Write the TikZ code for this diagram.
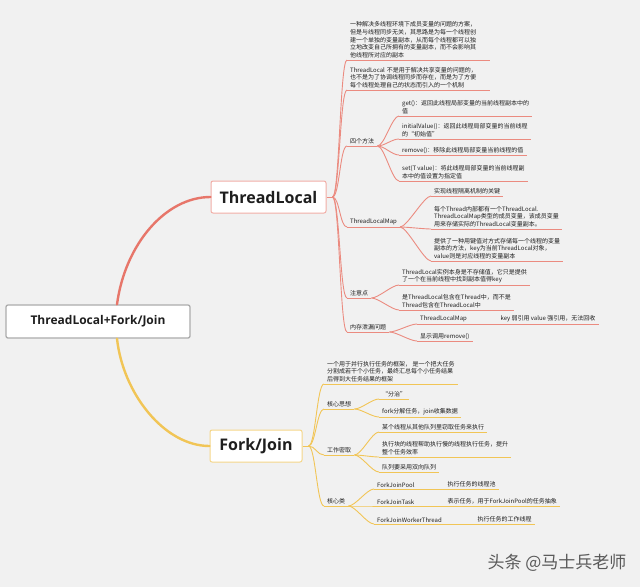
\documentclass[tikz,border=0pt]{standalone}
\usepackage{fontspec}
\setmainfont{Noto Sans CJK SC}
\newfontfamily\titlefont{Open Sans}
\usetikzlibrary{positioning}

\definecolor{bgcol}{RGB}{241,241,241}
\definecolor{tlcol}{RGB}{231,118,106}
\definecolor{fjcol}{RGB}{241,197,86}
\definecolor{txtcol}{RGB}{30,30,30}

\begin{document}
\begin{tikzpicture}[x=1pt,y=-1pt,
  topic/.style={draw, fill=white, rounded corners=2pt, line width=1pt,
    text=txtcol, inner sep=0pt, font=\titlefont\bfseries\fontsize{16}{18}\selectfont},
  leaf/.style={anchor=south west, inner xsep=3pt, inner ysep=1.6pt, align=left,
    text=txtcol, font=\fontsize{6}{7.8}\selectfont,
    append after command={(\tikzlastnode.south west) edge[#1] (\tikzlastnode.south east)}},
  leaf/.default=tlline,
  tlline/.style={draw=tlcol!85, line width=0.9pt},
  fjline/.style={draw=fjcol, line width=0.9pt},
  rootline/.style={line width=2.4pt, line cap=round},
  branch/.style={to path={.. controls +(7,0) and +(-7,0) .. (\tikztotarget)}}
]

\fill[bgcol] (0,0) rectangle (640,587);

\node[topic,
    draw=gray!65,
    line width=1.3pt,
    minimum width=184pt,
    minimum height=33pt,
    font=\titlefont\bfseries\fontsize{12}{14}\selectfont
] (root) at (98,321.5) {ThreadLocal+Fork/Join};

\node[topic,
    draw=tlcol!60,
    minimum width=115pt,
    minimum height=32pt
] (tl) at (268.5,197) {ThreadLocal};

\node[topic,
    draw=fjcol!70,
    minimum width=92pt,
    minimum height=32pt
] (fj) at (256,446) {Fork/Join};

\coordinate (tlhub) at ([xshift=6pt]tl.east);
\coordinate (fjhub) at ([xshift=6pt]fj.east);

\node[leaf, text width=137pt] (tldef) at (347,60) {一种解决多线程环境下成员变量的问题的方案，\\但是与线程同步无关，其思路是为每一个线程创\\建一个单独的变量副本，从而每个线程都可以独\\立地改变自己所拥有的变量副本，而不会影响其\\他线程所对应的副本};
\node[leaf, text width=137pt] (tlnote) at (347,90) {ThreadLocal 不是用于解决共享变量的问题的，\\也不是为了协调线程同步而存在，而是为了方便\\每个线程处理自己的状态而引入的一个机制};
\node[leaf] (tlmeth) at (347,146) {四个方法};
\node[leaf] (tlmap) at (347,227) {ThreadLocalMap};
\node[leaf] (tlcare) at (347,298) {注意点};
\node[leaf] (tlleak) at (347,332) {内存泄漏问题};

\node[leaf] (mget) at (399,116) {get()：返回此线程局部变量的当前线程副本中的\\值};
\node[leaf] (minit) at (399,139) {initialValue()：返回此线程局部变量的当前线程\\的“初始值”};
\node[leaf] (mremove) at (399,155) {remove()：移除此线程局部变量当前线程的值};
\node[leaf] (mset) at (399,181) {set(T value)：将此线程局部变量的当前线程副\\本中的值设置为指定值};

\node[leaf] (mapkey) at (431,196) {实现线程隔离机制的关键};
\node[leaf] (mapfield) at (431,229) {每个Thread内部都有一个ThreadLocal.\\ThreadLocalMap类型的成员变量，该成员变量\\用来存储实际的ThreadLocal变量副本。};
\node[leaf] (mapstore) at (431,261) {提供了一种用键值对方式存储每一个线程的变量\\副本的方法，key为当前ThreadLocal对象，\\value则是对应线程的变量副本};

\node[leaf] (carevalue) at (399,285) {ThreadLocal实例本身是不存储值，它只是提供\\了一个在当前线程中找到副本值得key};
\node[leaf] (careowner) at (399,310) {是ThreadLocal包含在Thread中，而不是\\Thread包含在ThreadLocal中};

\node[leaf, text width=74pt] (leakmap) at (417,324) {ThreadLocalMap};
\node[leaf] (leakref) at (leakmap.south east) {key 弱引用 value 强引用，无法回收};
\node[leaf] (leakremove) at (417,341) {显示调用remove()};

\node[leaf=fjline] (fjdef) at (324,384) {一个用于并行执行任务的框架， 是一个把大任务\\分割成若干个小任务，最终汇总每个小任务结果\\后得到大任务结果的框架};
\node[leaf=fjline] (fjidea) at (324,409) {核心思想};
\node[leaf=fjline] (fjsteal) at (324,455) {工作密取};
\node[leaf=fjline] (fjclass) at (324,506) {核心类};

\node[leaf=fjline] (ideadiv) at (379,399) {“分治”};
\node[leaf=fjline] (ideafork) at (379,417) {fork分解任务，join收集数据};

\node[leaf=fjline] (stealtask) at (379,432) {某个线程从其他队列里窃取任务来执行};
\node[leaf=fjline] (stealhelp) at (379,457) {执行块的线程帮助执行慢的线程执行任务，提升\\整个任务效率};
\node[leaf=fjline] (stealdeque) at (379,472) {队列要采用双向队列};

\node[leaf=fjline, text width=64pt] (clspool) at (374,489) {ForkJoinPool};
\node[leaf=fjline] (clspooltxt) at (clspool.south east) {执行任务的线程池};
\node[leaf=fjline, text width=64pt] (clstask) at (374,506) {ForkJoinTask};
\node[leaf=fjline] (clstasktxt) at (clstask.south east) {表示任务，用于ForkJoinPool的任务抽象};
\node[leaf=fjline, text width=94pt] (clsworker) at (374,524) {ForkJoinWorkerThread};
\node[leaf=fjline] (clsworkertxt) at (clsworker.south east) {执行任务的工作线程};

\node[text=black!65, font=\fontsize{17}{19}\selectfont] (wmark) at (557,563) {头条 @马士兵老师};

\draw[rootline, tlcol] ([xshift=19pt]root.north) .. controls +(8,-60) and +(-45,0) .. (tl.west);
\draw[rootline, fjcol] ([xshift=19pt]root.south) .. controls +(6,55) and +(-45,0) .. (fj.west);

\draw[tlline] (tl.east) -- (tlhub);
\draw[tlline, branch] (tlhub) to (tldef.south west);
\draw[tlline, branch] (tlhub) to (tlnote.south west);
\draw[tlline, branch] (tlhub) to (tlmeth.south west);
\draw[tlline, branch] (tlhub) to (tlmap.south west);
\draw[tlline, branch] (tlhub) to (tlcare.south west);
\draw[tlline, branch] (tlhub) to (tlleak.south west);

\draw[tlline, branch] (tlmeth.south east) to (mget.south west);
\draw[tlline, branch] (tlmeth.south east) to (minit.south west);
\draw[tlline, branch] (tlmeth.south east) to (mremove.south west);
\draw[tlline, branch] (tlmeth.south east) to (mset.south west);

\draw[tlline, branch] (tlmap.south east) to (mapkey.south west);
\draw[tlline, branch] (tlmap.south east) to (mapfield.south west);
\draw[tlline, branch] (tlmap.south east) to (mapstore.south west);

\draw[tlline, branch] (tlcare.south east) to (carevalue.south west);
\draw[tlline, branch] (tlcare.south east) to (careowner.south west);

\draw[tlline, branch] (tlleak.south east) to (leakmap.south west);
\draw[tlline, branch] (tlleak.south east) to (leakremove.south west);

\draw[fjline] (fj.east) -- (fjhub);
\draw[fjline, branch] (fjhub) to (fjdef.south west);
\draw[fjline, branch] (fjhub) to (fjidea.south west);
\draw[fjline, branch] (fjhub) to (fjsteal.south west);
\draw[fjline, branch] (fjhub) to (fjclass.south west);

\draw[fjline, branch] (fjidea.south east) to (ideadiv.south west);
\draw[fjline, branch] (fjidea.south east) to (ideafork.south west);

\draw[fjline, branch] (fjsteal.south east) to (stealtask.south west);
\draw[fjline, branch] (fjsteal.south east) to (stealhelp.south west);
\draw[fjline, branch] (fjsteal.south east) to (stealdeque.south west);

\draw[fjline, branch] (fjclass.south east) to (clspool.south west);
\draw[fjline, branch] (fjclass.south east) to (clstask.south west);
\draw[fjline, branch] (fjclass.south east) to (clsworker.south west);

\end{tikzpicture}
\end{document}
